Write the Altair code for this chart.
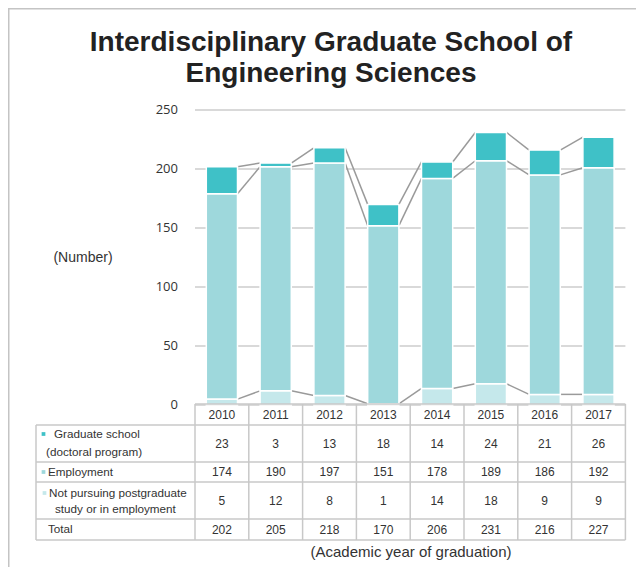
import altair as alt
import pandas as pd

# ---------------- data ----------------
years = [2010, 2011, 2012, 2013, 2014, 2015, 2016, 2017]
graduate_school = [23, 3, 13, 18, 14, 24, 21, 26]
employment = [174, 190, 197, 151, 178, 189, 186, 192]
not_pursuing = [5, 12, 8, 1, 14, 18, 9, 9]
totals = [202, 205, 218, 170, 206, 231, 216, 227]
y_ticks = [0, 50, 100, 150, 200, 250]

series_keys = ["not", "emp", "grad"]
series_colors = ["#c5e8eb", "#9ed8dc", "#3fc1c7"]

title_lines = ["Interdisciplinary Graduate School of", "Engineering Sciences"]
y_title = "(Number)"
x_title = "(Academic year of graduation)"
row_labels = [
    ["Graduate school", "(doctoral program)"],
    ["Employment"],
    ["Not pursuing postgraduate", "study or in employment"],
    ["Total"],
]

# ---------------- layout ----------------
W, H = 628, 559
PX_PER_YEAR = 53.8
X0_SCREEN = 221.9          # screen x of first year centre
PX_PER_UNIT = 1.18
Y0_SCREEN = 405.0          # screen y of value 0


def xv(sx):
    return years[0] + (sx - X0_SCREEN) / PX_PER_YEAR


def yv(sy):
    return (Y0_SCREEN - sy) / PX_PER_UNIT


X_DOM = [xv(8), xv(8 + W)]
Y_DOM = [yv(8 + H), yv(8)]
HALF_BAR = 0.29
FIRST_EDGE = years[0] - 0.5
LAST_EDGE = years[-1] + 0.5
LABEL_LEFT = xv(36)
ROW_EDGES = [yv(404), yv(425), yv(462), yv(482), yv(519), yv(540)]

xs = alt.Scale(domain=X_DOM, nice=False, zero=False)
ys = alt.Scale(domain=Y_DOM, nice=False, zero=False)
X = lambda f: alt.X(f, type="quantitative", scale=xs, axis=None)
Y = lambda f: alt.Y(f, type="quantitative", scale=ys, axis=None)

TXT = "#333333"
GRID = "#cccccc"
TABLE_FONT = "Liberation Sans"

# ---------------- bars ----------------
seg_rows = []
levels = {"b1": [], "b2": [], "b3": []}
for i, yr in enumerate(years):
    b1 = not_pursuing[i]
    b2 = b1 + employment[i]
    b3 = b2 + graduate_school[i]
    levels["b1"].append(b1)
    levels["b2"].append(b2)
    levels["b3"].append(b3)
    for key, lo, hi in zip(series_keys, [0, b1, b2], [b1, b2, b3]):
        seg_rows.append(dict(year=yr, series=key, lo=lo, hi=hi,
                             xa=yr - HALF_BAR, xb=yr + HALF_BAR))
seg_df = pd.DataFrame(seg_rows)

bars = alt.Chart(seg_df).mark_rect(stroke="white", strokeWidth=1.5).encode(
    x=X("xa"), x2="xb", y=Y("lo"), y2="hi",
    color=alt.Color("series:N", scale=alt.Scale(domain=series_keys, range=series_colors), legend=None),
)

con_rows = []
for lv in levels.values():
    for i in range(len(years) - 1):
        con_rows.append(dict(xa=years[i] + HALF_BAR, ya=lv[i],
                             xb=years[i + 1] - HALF_BAR, yb=lv[i + 1]))
connectors = alt.Chart(pd.DataFrame(con_rows)).mark_rule(color="#9a9a9a", strokeWidth=1.5).encode(
    x=X("xa"), y=Y("ya"), x2="xb", y2="yb")

grid_df = pd.DataFrame(dict(v=y_ticks, xa=FIRST_EDGE, xb=LAST_EDGE))
grid = alt.Chart(grid_df).mark_rule(color=GRID, strokeWidth=1.5).encode(
    x=X("xa"), x2="xb", y=Y("v"))
ylabels = alt.Chart(grid_df).mark_text(align="right", baseline="middle", dx=-17,
                                       font="Open Sans", fontSize=13, color=TXT).encode(
    x=X("xa"), y=Y("v"), text="v:Q")

# ---------------- table ----------------
h_rows = [dict(xa=FIRST_EDGE, xb=LAST_EDGE, y=ROW_EDGES[0])]
for e in ROW_EDGES[1:]:
    h_rows.append(dict(xa=LABEL_LEFT, xb=LAST_EDGE, y=e))
hlines = alt.Chart(pd.DataFrame(h_rows)).mark_rule(color="#c8c8c8", strokeWidth=1.5).encode(
    x=X("xa"), x2="xb", y=Y("y"))
v_rows = [dict(x=LABEL_LEFT, ya=ROW_EDGES[1], yb=ROW_EDGES[-1])]
for yr in years:
    v_rows.append(dict(x=yr - 0.5, ya=ROW_EDGES[0], yb=ROW_EDGES[-1]))
v_rows.append(dict(x=LAST_EDGE, ya=ROW_EDGES[0], yb=ROW_EDGES[-1]))
vlines = alt.Chart(pd.DataFrame(v_rows)).mark_rule(color="#c8c8c8", strokeWidth=1.5).encode(
    x=X("x"), y=Y("ya"), y2="yb")

cell_rows = []
centers = [(ROW_EDGES[k] + ROW_EDGES[k + 1]) / 2 for k in range(5)]
for i, yr in enumerate(years):
    for k, val in enumerate([yr, graduate_school[i], employment[i], not_pursuing[i], totals[i]]):
        cell_rows.append(dict(x=yr, y=centers[k], t=str(val)))
cells = alt.Chart(pd.DataFrame(cell_rows)).mark_text(
    align="center", baseline="middle", font=TABLE_FONT, fontSize=12, color=TXT).encode(
    x=X("x"), y=Y("y"), text="t:N")

lab_pos = [  # (row, line) -> screen x, screen y
    [(54, 434), (46, 452)],
    [(48, 472)],
    [(49, 493), (55, 509)],
    [(48, 529)],
]
lab_rows = []
for r, lines in enumerate(row_labels):
    for l, txt in enumerate(lines):
        sx, sy = lab_pos[r][l]
        lab_rows.append(dict(x=xv(sx), y=yv(sy), t=txt))
labels = alt.Chart(pd.DataFrame(lab_rows)).mark_text(
    align="left", baseline="middle", font=TABLE_FONT, fontSize=11.7, color=TXT).encode(
    x=X("x"), y=Y("y"), text="t:N")

bullet_pos = [(43.5, 434), (43.5, 472), (44.5, 493)]
bul_df = pd.DataFrame(dict(x=[xv(p[0]) for p in bullet_pos], y=[yv(p[1]) for p in bullet_pos],
                           series=["grad", "emp", "not"]))
bullets = alt.Chart(bul_df).mark_square(size=14, opacity=1).encode(
    x=X("x"), y=Y("y"),
    color=alt.Color("series:N", scale=alt.Scale(domain=series_keys, range=series_colors), legend=None))

# ---------------- annotations ----------------
one = pd.DataFrame({"a": [0]})
title = alt.Chart(one).mark_text(text=title_lines, font="Liberation Sans", fontWeight="bold",
                                 fontSize=28, lineHeight=31, align="center", baseline="middle",
                                 color="#222222").encode(x=alt.value(323), y=alt.value(35))
ytitle = alt.Chart(one).mark_text(text=y_title, font="Liberation Sans", fontSize=14,
                                  align="center", baseline="middle", color=TXT).encode(
    x=alt.value(75), y=alt.value(250))
xtitle = alt.Chart(one).mark_text(text=x_title, font="Liberation Sans", fontSize=15,
                                  align="center", baseline="middle", color=TXT).encode(
    x=alt.value(403), y=alt.value(544))
frame_top = alt.Chart(one).mark_rule(color="#c4c4c4", strokeWidth=1.5).encode(
    x=alt.value(0), x2=alt.value(W), y=alt.value(0.75))
frame_left = alt.Chart(one).mark_rule(color="#c4c4c4", strokeWidth=1.5).encode(
    x=alt.value(0.75), y=alt.value(0), y2=alt.value(H))

chart = alt.layer(
    frame_top, frame_left, grid, ylabels, connectors, bars,
    hlines, vlines, cells, labels, bullets, title, ytitle, xtitle,
).properties(
    width=W, height=H, autosize=alt.AutoSizeParams(type="none"), padding=0,
).configure_view(stroke=None).configure(background="white")

chart.save("out.html", embed_options={"renderer": "svg", "actions": False})
